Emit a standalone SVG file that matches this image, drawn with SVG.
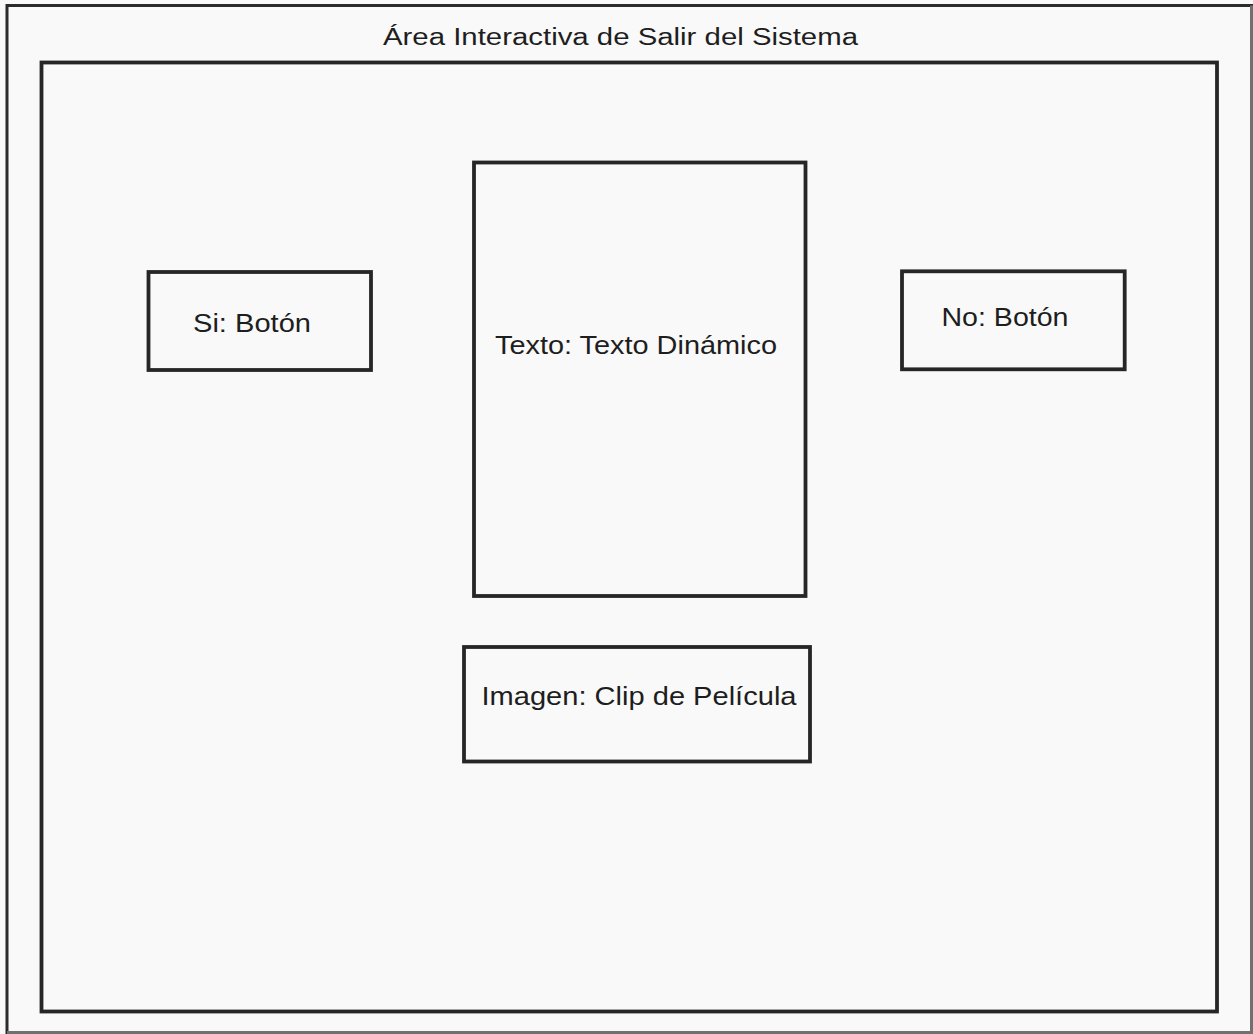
<svg xmlns="http://www.w3.org/2000/svg" width="1253" height="1034" viewBox="0 0 1253 1034">
  <style>
    .box { fill: none; stroke: #262626; stroke-width: 3.8; }
    .lbl { font-family: "Liberation Sans", Arial, sans-serif; font-size: 25px; fill: #1e1e1e; }
    .title { font-family: "Liberation Sans", Arial, sans-serif; font-size: 23px; fill: #1e1e1e; }
  </style>
  <rect x="0" y="0" width="1253" height="1034" fill="#f9f9f9"/>

  <!-- outer window frame -->
  <g id="window">
    <path d="M7 1034 V5.5 H1253" fill="none" stroke="#2b2b2b" stroke-width="3"/>
    <path d="M1251.5 5.5 V1032.5 H7" fill="none" stroke="#707070" stroke-width="3"/>
    <text class="title" x="383" y="44.5" textLength="475" lengthAdjust="spacingAndGlyphs">Área Interactiva de Salir del Sistema</text>
  </g>

  <!-- interactive area -->
  <g id="area">
    <rect class="box" x="41.5" y="62.5" width="1175.5" height="949"/>
  </g>

  <g id="btn-si">
    <rect class="box" x="148.5" y="272" width="222.5" height="98"/>
    <text class="lbl" x="193" y="331.5" textLength="118" lengthAdjust="spacingAndGlyphs">Si: Botón</text>
  </g>

  <g id="texto">
    <rect class="box" x="474" y="162.5" width="331.5" height="433.5"/>
    <text class="lbl" x="495" y="354" textLength="282" lengthAdjust="spacingAndGlyphs">Texto: Texto Dinámico</text>
  </g>

  <g id="btn-no">
    <rect class="box" x="902" y="271.3" width="222.7" height="98"/>
    <text class="lbl" x="941.5" y="326" textLength="127" lengthAdjust="spacingAndGlyphs">No: Botón</text>
  </g>

  <g id="imagen">
    <rect class="box" x="464" y="647" width="346" height="114.5"/>
    <text class="lbl" x="481.5" y="705.3" textLength="315" lengthAdjust="spacingAndGlyphs">Imagen: Clip de Película</text>
  </g>

  <!-- no connectors in this layout -->
  <g id="connectors"/>
</svg>
